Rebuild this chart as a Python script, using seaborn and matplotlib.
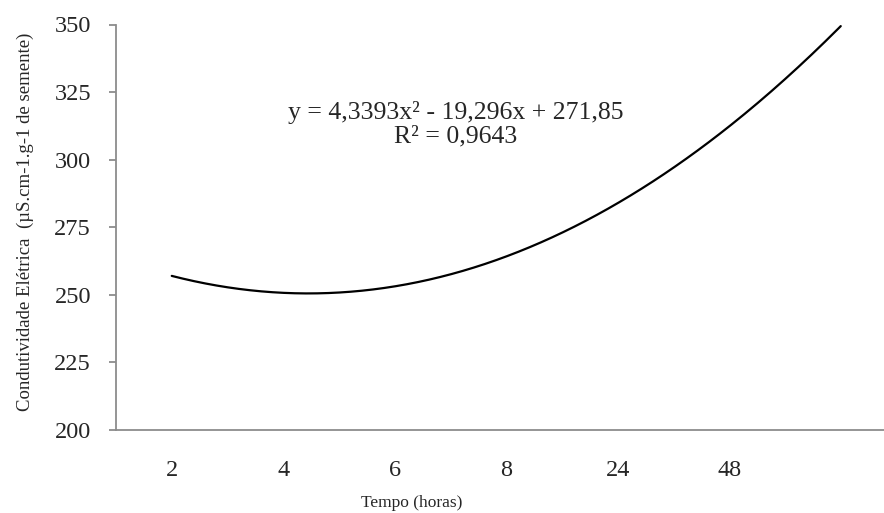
import numpy as np
import pandas as pd
import matplotlib
matplotlib.use("Agg")
import matplotlib.pyplot as plt
import seaborn as sns

# Categorias do eixo x (tempo em horas) e coeficientes da linha de tendência
tempo_labels = ["2", "4", "6", "8", "24", "48"]
coef_a = 4.3393
coef_b = -19.296
coef_c = 271.85
r2 = 0.9643
# a tendência do Excel vai de x=1 até x=7 (previsão de 1 período)
x_inicio = 1
x_fim = 7

y_ticks = [200, 225, 250, 275, 300, 325, 350]

sns.set_theme(style="white")
plt.rcParams["font.family"] = ["Liberation Serif", "DejaVu Serif"]

xs = np.linspace(x_inicio, x_fim, 300)
df = pd.DataFrame({"x": xs, "y": np.polyval([coef_a, coef_b, coef_c], xs)})

fig = plt.figure(figsize=(8.84, 5.13), dpi=100)
ax = fig.add_axes([116 / 884, 1 - 429.5 / 513, 1 - 116 / 884, (429.5 - 24.5) / 513])

sns.lineplot(data=df, x="x", y="y", ax=ax, color="black", linewidth=1.6)

ax.set_xlim(0.5, 0.5 + (884 - 116) / 111.5)
ax.set_ylim(200, 350)
ax.set_yticks(y_ticks)
ax.set_yticklabels([str(v) for v in y_ticks], fontsize=17.5)
ax.set_xticks(range(1, len(tempo_labels) + 1))
ax.set_xticklabels(tempo_labels, fontsize=17.5)
ax.tick_params(axis="y", length=5, width=1.3, color="#8c8c8c", pad=13, left=True)
ax.tick_params(axis="x", length=0, pad=22)

for side in ["top", "right"]:
    ax.spines[side].set_visible(False)
for side in ["left", "bottom"]:
    ax.spines[side].set_color("#8c8c8c")
    ax.spines[side].set_linewidth(1.3)

ax.set_xlabel("")
ax.set_ylabel("")
fig.text(412 / 884, 1 - 503 / 513, "Tempo (horas)", ha="center", va="center", fontsize=12.5)
fig.text(25 / 884, 1 - 222 / 513, "Condutividade Elétrica  (µS.cm-1.g-1 de semente)",
         ha="center", va="center", rotation=90, fontsize=13.5)

ax.text(3.55, 317.5, "y = 4,3393x² - 19,296x + 271,85", ha="center", va="center", fontsize=18.5)
ax.text(3.55, 308.5, "R² = " + f"{r2:.4f}".replace(".", ","), ha="center", va="center", fontsize=18.5)

fig.savefig("out.png", dpi=100)
